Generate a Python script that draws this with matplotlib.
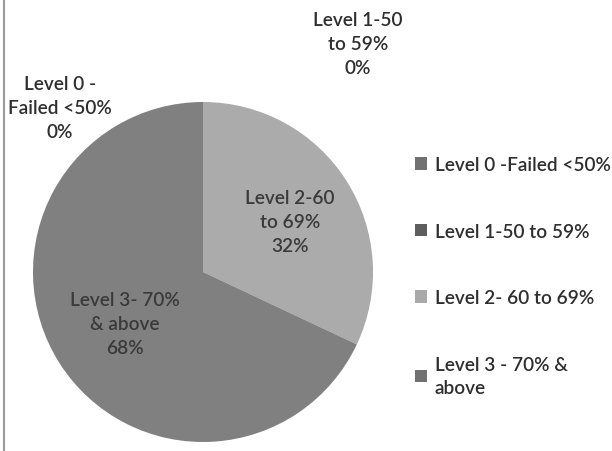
import matplotlib
matplotlib.use("Agg")
import matplotlib.pyplot as plt
from matplotlib.patches import Patch

plt.rcParams['font.family'] = ['Lato', 'DejaVu Sans']

legend_names = ["Level 0 -Failed <50%", "Level 1-50 to 59%",
                "Level 2- 60 to 69%", "Level 3 - 70% &\nabove"]
label_names = ["Level 0 -\nFailed <50%", "Level 1-50\nto 59%",
               "Level 2-60\nto 69%", "Level 3- 70%\n& above"]
shares = [0, 0, 32, 68]
slice_colors = ["#6e6e6e", "#5a5a5a", "#ababab", "#808080"]
legend_colors = ["#717171", "#5e5e5e", "#a9a9a9", "#707070"]

W, H = 612, 452
fig = plt.figure(figsize=(W / 100, H / 100), dpi=100)
ax = fig.add_axes([0, 0, 1, 1])

# pie in pixel coordinates (y measured from the bottom)
cx, cy, r = 203, H - 273, 170
ax.pie(shares, colors=slice_colors, startangle=90, counterclock=False,
       center=(cx, cy), radius=r, wedgeprops=dict(linewidth=0))
ax.set_xlim(0, W)
ax.set_ylim(0, H)
ax.set_aspect('equal')
ax.axis('off')

# data labels (zero slices pushed outside, like the original)
label_pos = [(60, 108), (358, 45), (290, 223), (125, 325)]
label_cols = ["#2e2e2e", "#2e2e2e", "#3a3a3a", "#3a3a3a"]
for name, val, (x, y), c in zip(label_names, shares, label_pos, label_cols):
    ax.text(x, H - y, f"{name}\n{val}%", ha='center', va='center',
            fontsize=13.7, fontweight='semibold', color=c, linespacing=1.5)

# legend
handles = [Patch(facecolor=c, edgecolor='none') for c in legend_colors]
leg = fig.legend(handles, legend_names, loc='upper left',
                 bbox_to_anchor=(398 / W, 1 - 140 / H), frameon=False,
                 handlelength=0.62, handleheight=0.62,
                 handletextpad=0.4, labelspacing=2.6, labelcolor="#2e2e2e",
                 prop=dict(size=13.7, weight='semibold'))
for t in leg.get_texts():
    t.set_linespacing(1.45)

# scan border on the left edge
fig.add_artist(plt.Line2D([4 / W, 4 / W], [0, 1], color="#9a9a9a", lw=1.5))

fig.savefig("out.png", dpi=100, facecolor="white")
